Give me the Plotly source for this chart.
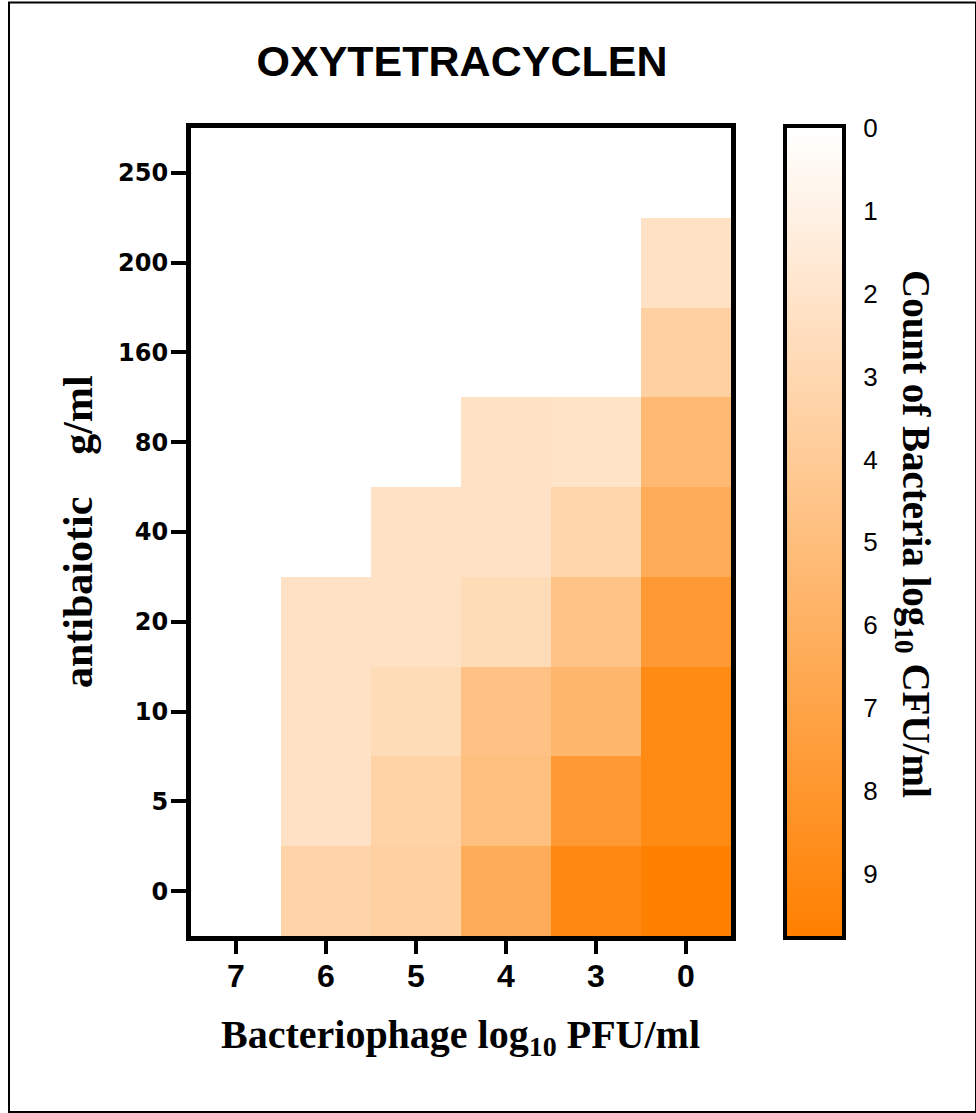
import plotly.graph_objects as go

# ---- data ----
phage = ["7", "6", "5", "4", "3", "0"]                     # x categories (log10 PFU/ml)
antibiotic = ["0", "5", "10", "20", "40", "80", "160", "200", "250"]  # y categories (µg/ml)

# bacterial counts (log10 CFU/ml), one list per antibiotic row (columns follow `phage`)
row_0   = [0, 3.3, 3.6, 6.4, 9.1, 9.7]
row_5   = [0, 2.2, 3.4, 4.9, 7.8, 9.0]
row_10  = [0, 2.2, 2.7, 4.7, 5.6, 9.0]
row_20  = [0, 2.2, 2.2, 2.7, 4.6, 7.8]
row_40  = [0, 0, 2.2, 2.2, 3.2, 6.4]
row_80  = [0, 0, 0, 2.2, 2.1, 5.4]
row_160 = [0, 0, 0, 0, 0, 3.6]
row_200 = [0, 0, 0, 0, 0, 2.2]
row_250 = [0, 0, 0, 0, 0, 0]

cbar_ticks = [0, 1, 2, 3, 4, 5, 6, 7, 8, 9]
zmax = 9.75

z = [row_0, row_5, row_10, row_20, row_40, row_80, row_160, row_200, row_250]

# ---- geometry (pixels) ----
W, H = 976, 1113
L, R, T, B = 191, 134, 128, 177
PW = W - L - R
PH = H - T - B
def px(x):
    return (x - L) / PW
def py(y):
    return (H - B - y) / PH

orange_scale = [[0, "#ffffff"], [1, "#ff8000"]]
rev_scale = [[0, "#ff8000"], [1, "#ffffff"]]

fig = go.Figure()
fig.add_trace(go.Heatmap(
    x=phage, y=antibiotic, z=z, zmin=0, zmax=zmax,
    colorscale=orange_scale, showscale=False, xgap=0, ygap=0,
    hoverongaps=False,
))

# colour bar (reads 0 at the top) drawn on its own small axis
fig.add_trace(go.Scatter(
    x=[None], y=[None], xaxis="x2", yaxis="y2", mode="markers",
    showlegend=False,
    marker=dict(color=[0], cmin=0, cmax=zmax, colorscale=rev_scale, showscale=True,
                colorbar=dict(x=px(787), xanchor="left", xpad=0, ypad=0,
                              y=0.5, yanchor="middle", len=1, lenmode="fraction",
                              thickness=842 - 787, outlinewidth=0,
                              showticklabels=False, ticks="")),
))

bold_sans = dict(family="DejaVu Sans", color="black", weight="bold")
serif = dict(family="Liberation Serif, Times New Roman, serif", color="black", weight="bold")

fig.update_layout(
    width=W, height=H,
    margin=dict(l=L, r=R, t=T, b=B),
    paper_bgcolor="white", plot_bgcolor="white",
    xaxis=dict(domain=[0, 540 / PW], type="category", range=[-0.5, 5.5],
               showline=True, linewidth=5, linecolor="black", mirror=True,
               ticks="outside", ticklen=13, tickwidth=4, tickcolor="black",
               tickfont=dict(size=32, family="Liberation Sans, Arial", color="black", weight="bold"),
               showgrid=False, zeroline=False, ticklabelstandoff=-5),
    yaxis=dict(domain=[0, 1], type="category", range=[-0.5, 8.5],
               showline=True, linewidth=5, linecolor="black", mirror=True,
               ticks="outside", ticklen=15, tickwidth=4, tickcolor="black",
               tickfont=dict(size=24, **bold_sans), showgrid=False, zeroline=False,
               ticklabelstandoff=-2),
    xaxis2=dict(domain=[px(787), 1], anchor="y2", range=[0, 1],
                showline=True, linewidth=4, linecolor="black", mirror=True,
                showticklabels=False, ticks="", showgrid=False, zeroline=False),
    yaxis2=dict(domain=[0, 1], anchor="x2", side="right", range=[zmax, 0],
                tickvals=cbar_ticks, showline=True, linewidth=4, linecolor="black",
                mirror="ticks", ticks="inside", ticklen=9, tickwidth=3, tickcolor="black",
                tickfont=dict(size=26, family="Liberation Sans, Arial", color="black"),
                showgrid=False, zeroline=False, ticklabelstandoff=12),
    title=dict(text="OXYTETRACYCLEN", x=462 / W, xanchor="center",
               y=1 - 61 / H, yanchor="middle", yref="container",
               font=dict(size=43, family="Liberation Sans, Arial", color="black", weight="bold")),
    showlegend=False,
)

fig.add_annotation(text="Bacteriophage log<sub>10</sub> PFU/ml", xref="paper", yref="paper",
                   x=px(460), y=py(1037), xanchor="center", yanchor="middle",
                   showarrow=False, font=dict(size=40, **serif))
fig.add_annotation(text="antibaiotic\u00a0\u00a0\u00a0\u00a0g/ml", xref="paper", yref="paper",
                   x=px(78), y=py(532), xanchor="center", yanchor="middle", textangle=-90,
                   showarrow=False, font=dict(size=42, **serif))
fig.add_annotation(text="Count of Bacteria log<sub>10</sub> CFU/ml", xref="paper", yref="paper",
                   x=px(914), y=py(534), xanchor="center", yanchor="middle", textangle=90,
                   showarrow=False, font=dict(size=39, **serif))

# outer frame of the figure
fig.add_shape(type="rect", xref="paper", yref="paper",
              x0=px(9), x1=px(976), y0=py(1112), y1=py(2.5),
              line=dict(color="black", width=2), fillcolor="rgba(0,0,0,0)", layer="above")

fig.write_html("out.html", config={"displayModeBar": False},
               post_script="document.body.style.margin='0';document.body.style.padding='0';")
